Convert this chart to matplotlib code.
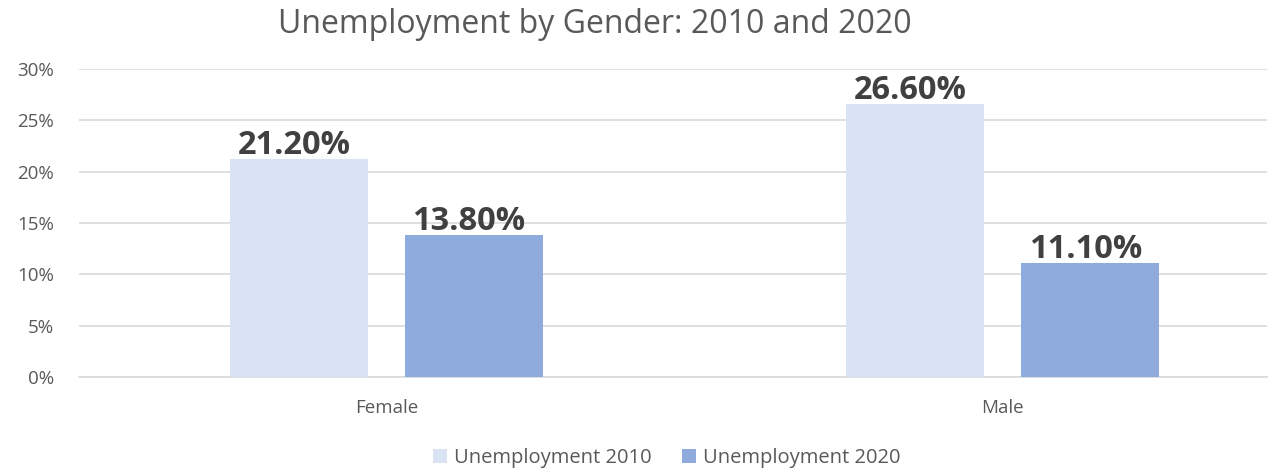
import matplotlib
matplotlib.use("Agg")
import matplotlib.pyplot as plt
import numpy as np
from matplotlib.patches import Patch
from matplotlib.ticker import FuncFormatter

categories = ["Female", "Male"]
series_names = ["Unemployment 2010", "Unemployment 2020"]
unemp_2010 = [21.2, 26.6]
unemp_2020 = [13.8, 11.1]
colors = ["#DAE3F3", "#8FAADC"]

plt.rcParams['font.family'] = ['Open Sans', 'DejaVu Sans']

fig = plt.figure(figsize=(12.73, 4.70), dpi=100)
ax = fig.add_axes([0.062, 0.198, 0.9333, 0.655])

x = np.arange(len(categories))
w = 0.224
off = 0.142
b1 = ax.bar(x - off, unemp_2010, w, color=colors[0], zorder=3)
b2 = ax.bar(x + off, unemp_2020, w, color=colors[1], zorder=3)

for bars, vals in ((b1, unemp_2010), (b2, unemp_2020)):
    for r, v in zip(bars, vals):
        ax.text(r.get_x() + r.get_width() / 2 - 0.008, v - 0.3, f"{v:.2f}%",
                ha="center", va="bottom", fontsize=23.5, fontweight="bold",
                color="#404040", zorder=4)

ax.set_xlim(-0.499, 1.429)
ax.set_ylim(0, 30)
ax.set_yticks(np.arange(0, 31, 5))
ax.yaxis.set_major_formatter(FuncFormatter(lambda v, p: f"{v:.0f}%"))
ax.set_xticks(x)
ax.set_xticklabels(categories)
ax.tick_params(axis="both", length=0, labelsize=13.5, colors="#595959")
ax.tick_params(axis="y", pad=18)
ax.tick_params(axis="x", pad=16)
ax.grid(axis="y", color="#D9D9D9", linewidth=1.2, zorder=0)
for s in ["top", "right", "left"]:
    ax.spines[s].set_visible(False)
ax.spines["bottom"].set_color("#D9D9D9")
ax.spines["bottom"].set_linewidth(1.2)

fig.text(0.467, 0.948, "Unemployment by Gender: 2010 and 2020", ha="center", va="center",
         fontsize=23, color="#595959")

handles = [Patch(facecolor=c, edgecolor="none") for c in colors]
fig.legend(handles, series_names, loc="center", bbox_to_anchor=(0.524, 0.025),
           ncol=2, frameon=False, fontsize=14.5, labelcolor="#595959",
           handlelength=0.7, handleheight=0.7, handletextpad=0.35, columnspacing=1.5)

fig.savefig("out.png", dpi=100)
